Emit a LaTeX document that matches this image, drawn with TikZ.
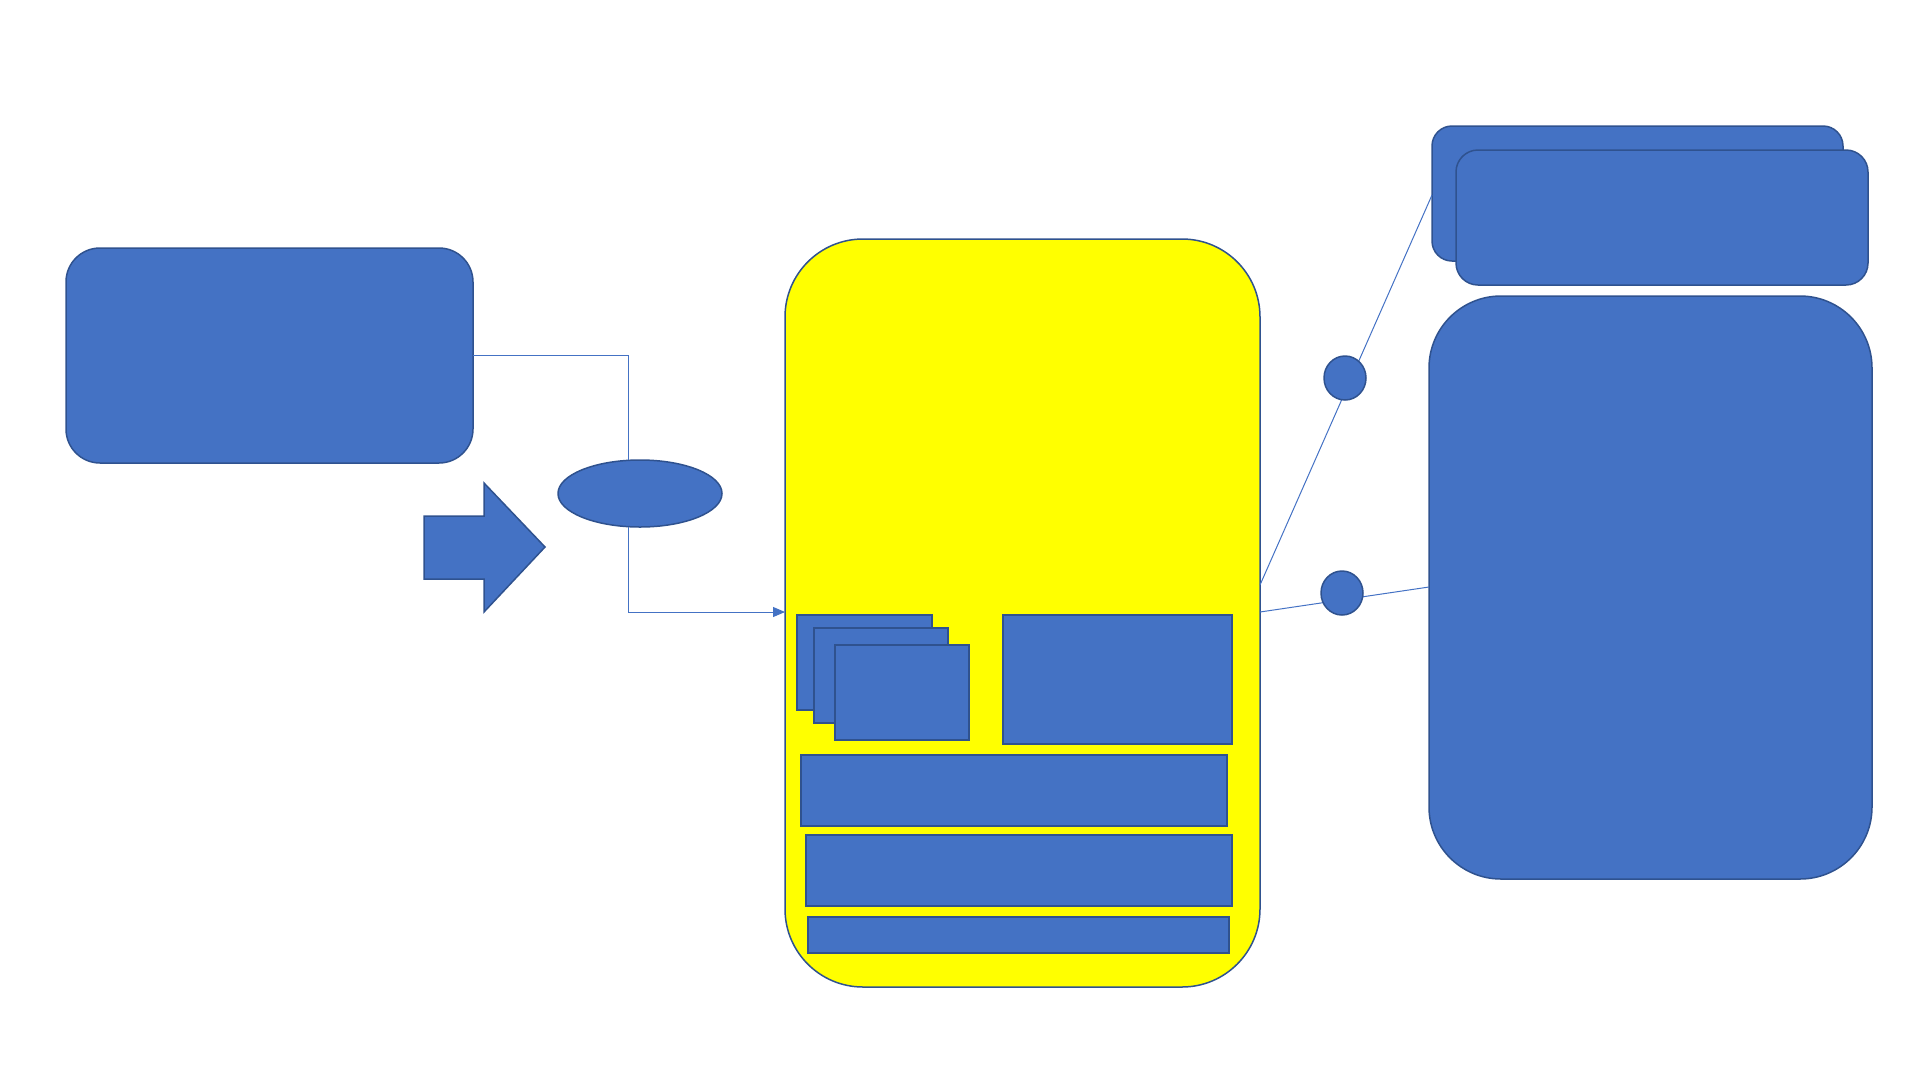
\documentclass[tikz,border=0pt]{standalone}
\usetikzlibrary{arrows.meta,shapes.geometric}
\definecolor{fillblue}{HTML}{4472C4}
\definecolor{edgeblue}{HTML}{2F528F}
\definecolor{boxyellow}{HTML}{FFFF00}
\tikzset{
  shp/.style={draw=edgeblue,fill=fillblue,line width=1.5pt,inner sep=0pt,outer sep=0pt},
  sqbox/.style={shp,rectangle},
  conn/.style={draw=fillblue,line width=1pt},
  dot/.style={shp,ellipse,minimum width=42pt,minimum height=44pt},
}
\begin{document}
\begin{tikzpicture}[x=1pt,y=-1pt]
\useasboundingbox (0,0) rectangle (1920,1080);
% left rounded box
\node[sqbox,rounded corners=34pt,minimum width=407pt,minimum height=215pt] (L) at (269.5,355.5) {};
% block arrow
\path[shp] (424,516) -- (484,516) -- (484,483) -- (545,547) -- (484,612) -- (484,579) -- (424,579) -- cycle;
% ellipse
\node[shp,ellipse,minimum width=164pt,minimum height=67pt] (E) at (640,493.5) {};
% yellow container
\node[draw=edgeblue,fill=boxyellow,line width=1.5pt,rectangle,rounded corners=78pt,minimum width=475pt,minimum height=748pt,inner sep=0pt,outer sep=0pt] (Y) at (1022.5,613) {};
% right shapes
\node[sqbox,rounded corners=72pt,minimum width=443pt,minimum height=583pt] (Big) at (1650.5,587.5) {};
\node[sqbox,rounded corners=20pt,minimum width=411pt,minimum height=135pt] (A) at (1637.5,193.5) {};
\node[sqbox,rounded corners=22pt,minimum width=412pt,minimum height=135pt] (B) at (1662,217.5) {};
% connectors
\coordinate (k1) at (628,355);
\coordinate (k2) at (628,612);
\draw[conn] (L.east |- k1) -- (k1) -- (E.north -| k1);
\draw[conn,-{Triangle[length=12pt,width=10pt]}] (E.south -| k2) -- (k2) -- (k2 -| Y.west);
\draw[conn] (Y.east |- 0,585) -- (A.west |- 0,195);
\draw[conn] (Y.east |- 0,612) -- (Big.west |- 0,587);
% small circles
\node[dot] (C1) at (1345,378) {};
\node[dot] (C2) at (1342,593) {};
% inner boxes
\node[sqbox,minimum width=135pt,minimum height=95pt] (S1) at (864.5,662.5) {};
\node[sqbox,minimum width=134pt,minimum height=95pt] (S2) at (881,675.5) {};
\node[sqbox,minimum width=134pt,minimum height=95pt] (S3) at (902,692.5) {};
\node[sqbox,minimum width=229pt,minimum height=129pt] (R) at (1117.5,679.5) {};
\node[sqbox,minimum width=426pt,minimum height=71pt] (B1) at (1014,790.5) {};
\node[sqbox,minimum width=426pt,minimum height=71pt] (B2) at (1019,870.5) {};
\node[sqbox,minimum width=421pt,minimum height=36pt] (B3) at (1018.5,935) {};
\end{tikzpicture}
\end{document}
